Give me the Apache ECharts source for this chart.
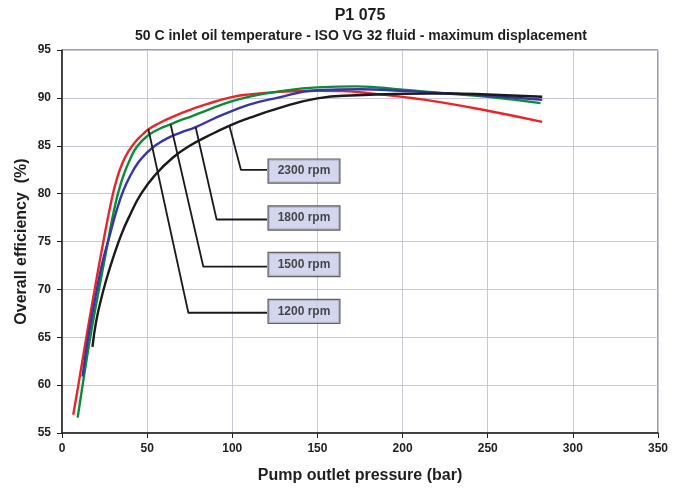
<!DOCTYPE html>
<html>
<head>
<meta charset="utf-8">
<script src="https://cdn.jsdelivr.net/npm/echarts@6/dist/echarts.min.js"></script>
<style>
html,body{margin:0;padding:0;background:#fff;}
#chart{width:681px;height:489px;}
</style>
</head>
<body>
<div id="chart"></div>
<script>
// ---- data (pressure bar, overall efficiency %) ----
var rpm1200 = [[6.6,56.9],[9.6,60],[14.3,65],[19.2,70],[24.3,75],[29.3,79.5],[32.3,81.6],[35.5,83.2],[39,84.4],[43,85.4],[47.5,86.2],[50.6,86.7],[57.5,87.4],[65.3,88.05],[75.2,88.75],[85,89.35],[99,90.05],[110,90.37],[125,90.6],[150,90.75],[165,90.7],[180,90.5],[200,90.1],[222,89.55],[250,88.65],[282,87.5]];
var rpm1500 = [[9.2,56.6],[12.1,60],[16.6,65],[21.7,70],[27,75],[30,77.8],[33,80.1],[36.3,82],[40,83.6],[44,84.9],[50,86.0],[57,86.75],[64,87.25],[69.3,87.65],[75,88.0],[85,88.7],[99,89.6],[110,90.12],[125,90.6],[150,91.1],[173,91.2],[200,90.85],[222,90.5],[250,90.1],[281,89.45]];
var rpm1800 = [[12.1,60.9],[15.4,65],[20.5,70],[24,73],[28,75.6],[32,78.2],[36,80.3],[40.5,82],[45,83.3],[50,84.3],[55,85.05],[62,85.8],[69.3,86.35],[78.5,86.95],[90,87.9],[100,88.65],[110,89.3],[125,89.95],[150,90.8],[175,90.9],[200,90.72],[225,90.5],[250,90.22],[282,89.8]];
var rpm2300 = [[17.9,64],[20,66.6],[23,69],[26,71],[30,73.3],[35,75.8],[40,77.8],[46.5,80],[55,82],[65,83.75],[75,85.0],[85,85.95],[98.5,87.1],[110,87.9],[125,88.8],[150,89.95],[173,90.28],[200,90.42],[228,90.45],[250,90.35],[282,90.12]];

var seriesNames = ['1200 rpm','1500 rpm','1800 rpm','2300 rpm'];
var xTicks = [0,50,100,150,200,250,300,350];
var yTicks = [55,60,65,70,75,80,85,90,95];

// callouts: point on curve, elbow, label centre (data units)
var calloutCurvePts = [[50.7,86.75],[63.8,87.22],[78.5,86.93],[98.3,87.08]];
var calloutElbows   = [[74.2,67.56],[83.0,72.37],[90.8,77.3],[105.1,82.47]];
var calloutLabels   = [[142.1,67.7],[142.1,72.6],[142.1,77.45],[142.1,82.35]];
var calloutLineEndX = 120.4;

var colors = ['#e8262a','#0b8a3a','#3636a6','#1a1a1a'];
var curves = [rpm1200, rpm1500, rpm1800, rpm2300];

var chart = echarts.init(document.getElementById('chart'), null, {renderer:'canvas'});
var font = 'Liberation Sans, Arial, sans-serif';

var series = [];
curves.forEach(function(d,i){
  series.push({
    name: seriesNames[i], type:'line', data:d, smooth:0.5, showSymbol:false, symbol:'none',
    lineStyle:{color:colors[i], width:2.4}, z:3, animation:false
  });
});
calloutCurvePts.forEach(function(p,i){
  var e = calloutElbows[i];
  series.push({
    type:'line', data:[p, e, [calloutLineEndX, e[1]]], showSymbol:false, symbol:'none',
    lineStyle:{color:'#1a1a1a', width:1.8}, z:4, animation:false, silent:true
  });
});
series.push({
  type:'scatter', symbolSize:0, z:6, animation:false, silent:true,
  data: calloutLabels.map(function(p,i){ return {value:p, name:seriesNames[i]}; }),
  label:{
    show:true, position:'inside', formatter:'{b}',
    fontFamily:font, fontWeight:'bold', fontSize:12, color:'#1e1e1e',
    backgroundColor:'#c8cce8', borderColor:'#3a3a3a', borderWidth:1.2,
    padding:[6,9,5,9]
  }
});

chart.setOption({
  animation:false,
  title:[
    {text:'P1 075', left:355, top:3, textAlign:'center',
     textStyle:{fontFamily:font, fontWeight:'bold', fontSize:16, color:'#1e1e1e'}},
    {text:'50 C inlet oil temperature - ISO VG 32 fluid - maximum displacement', left:356, top:24, textAlign:'center',
     textStyle:{fontFamily:font, fontWeight:'bold', fontSize:14, color:'#1e1e1e'}}
  ],
  grid:{left:62, right:23, top:50, bottom:56, show:true, borderColor:'#3a3a3a', borderWidth:1, backgroundColor:'transparent'},
  xAxis:{
    type:'value', min:xTicks[0], max:xTicks[xTicks.length-1], interval:50,
    name:'Pump outlet pressure (bar)', nameLocation:'middle', nameGap:35,
    nameTextStyle:{fontFamily:font, fontWeight:'bold', fontSize:16, color:'#1e1e1e'},
    axisLine:{lineStyle:{color:'#1e1e1e', width:1.5}},
    axisTick:{show:true, inside:false, length:5, lineStyle:{color:'#1e1e1e'}},
    axisLabel:{fontFamily:font, fontWeight:'bold', fontSize:12, color:'#1e1e1e', margin:10},
    splitLine:{show:true, lineStyle:{color:'#c9c9d6', width:1}}
  },
  yAxis:{
    type:'value', min:yTicks[0], max:yTicks[yTicks.length-1], interval:5,
    name:'Overall efficiency  (%)', nameLocation:'middle', nameGap:32, nameMoveOverlap:false,
    nameTextStyle:{fontFamily:font, fontWeight:'bold', fontSize:16, color:'#1e1e1e'},
    axisLine:{show:true, lineStyle:{color:'#1e1e1e', width:1.5}},
    axisTick:{show:true, inside:false, length:5, lineStyle:{color:'#1e1e1e'}},
    axisLabel:{fontFamily:font, fontWeight:'bold', fontSize:12, color:'#1e1e1e', margin:11},
    splitLine:{show:true, lineStyle:{color:'#c9c9d6', width:1}}
  },
  series:series
});
</script>
</body>
</html>
